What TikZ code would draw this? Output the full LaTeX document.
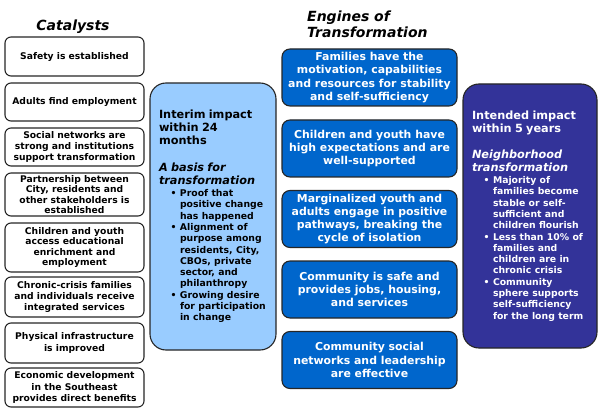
\documentclass[tikz,border=0pt]{standalone}
\usepackage{fontspec}
\setmainfont{DejaVu Sans}
\usepackage{tikz}
\usepackage{xcolor}
\definecolor{interimblue}{HTML}{99CCFF}
\definecolor{engineblue}{HTML}{0066CC}
\definecolor{intendedblue}{HTML}{333399}
\tikzstyle{catalyst}=[draw=black!85,line width=1.1pt,rounded corners=6pt,fill=white,minimum width=139pt,align=center,inner sep=1pt]
\tikzstyle{engine}=[draw=black!85,line width=1.1pt,rounded corners=8pt,fill=engineblue,text=white,minimum width=175pt,minimum height=57pt,align=center,inner sep=1pt,font=\fontsize{10.9}{13.1}\selectfont\bfseries]
\tikzstyle{impact}=[draw=black!85,line width=1.1pt,rounded corners=16pt,align=left,inner xsep=9pt,inner ysep=2pt,font=\bfseries]
\tikzstyle{heading}=[inner sep=0pt,font=\fontsize{14}{16.5}\selectfont\bfseries\itshape]
\newcommand{\bul}{\par\noindent\hangindent=21pt\hangafter=1\makebox[21pt][l]{\hspace{11.5pt}\textbullet}}

\begin{document}
\begin{tikzpicture}[x=1pt,y=-1pt]
    \useasboundingbox (0,0) rectangle (600,417);
    \node[heading] (cattitle) at (73,27) {Catalysts};
    \node[heading,anchor=west,align=left] (engtitle) at (307,24.3) {Engines of\\Transformation};
    % catalysts
    \foreach \pos/\h/\ls/\name/\txt in {{(74.5,56.5)/39/11.3/safety/{Safety is established}},
        {(74.5,102)/38/11.3/employ/{Adults find employment}},
        {(74.5,147)/38/11.3/social/{Social networks are\\strong and institutions\\support transformation}},
        {(74.5,194.5)/43/10.3/partner/{Partnership between\\City, residents and\\other stakeholders is\\established}},
        {(74.5,247.5)/49/10.3/children/{Children and youth\\access educational\\enrichment and\\employment}},
        {(74.5,297)/40/11.3/chronic/{Chronic-crisis families\\and individuals receive\\integrated services}},
        {(74.5,343)/40/11.3/physical/{Physical infrastructure\\is improved}},
        {(74.5,387.5)/39/11.5/economic/{Economic development\\in the Southeast\\provides direct benefits}}}
        \node[catalyst,minimum height=\h pt,font=\fontsize{9.2}{\ls}\selectfont\bfseries] (\name) at \pos {\txt};
    % interim impact
    \node[impact,fill=interimblue,minimum width=126pt,minimum height=267pt,text width=108pt] (interim) at (213,216.5) {%
        \fontsize{11.3}{13.1}\selectfont Interim impact\\within 24\\months\\[13.1pt]
        \itshape A basis for\\transformation\par\vskip1pt
        \fontsize{9.3}{11.3}\selectfont\upshape
        \bul Proof that\newline positive change\newline has happened
        \bul Alignment of\newline purpose among\newline residents, City,\newline CBOs, private\newline sector, and\newline philanthropy
        \bul Growing desire\newline for participation\newline in change\par\vskip-4pt};
    % engines of transformation
    \foreach \pos/\name/\txt in {{(369.5,77.5)/families/{Families have the\\motivation, capabilities\\and resources for stability\\and self-sufficiency}},
        {(369.5,148.5)/youth/{Children and youth have\\high expectations and are\\well-supported}},
        {(369.5,219)/marginal/{Marginalized youth and\\adults engage in positive\\pathways, breaking the\\cycle of isolation}},
        {(369.5,289.5)/safe/{Community is safe and\\provides jobs, housing,\\and services}},
        {(369.5,360)/networks/{Community social\\networks and leadership\\are effective}}}
        \node[engine] (\name) at \pos {\txt};
    % intended impact
    \node[impact,fill=intendedblue,text=white,minimum width=134pt,minimum height=264pt,text width=116pt] (intended) at (530,216) {%
        \fontsize{11.3}{12.8}\selectfont Intended impact\\within 5 years\\[13.5pt]
        \itshape Neighborhood\\transformation\par\vskip1pt
        \fontsize{9.3}{11.3}\selectfont\upshape
        \bul Majority of\newline families become\newline stable or self-\newline sufficient and\newline children flourish
        \bul Less than 10\% of\newline families and\newline children are in\newline chronic crisis
        \bul Community\newline sphere supports\newline self-sufficiency\newline for the long term\par\vskip-5pt};
\end{tikzpicture}
\end{document}
